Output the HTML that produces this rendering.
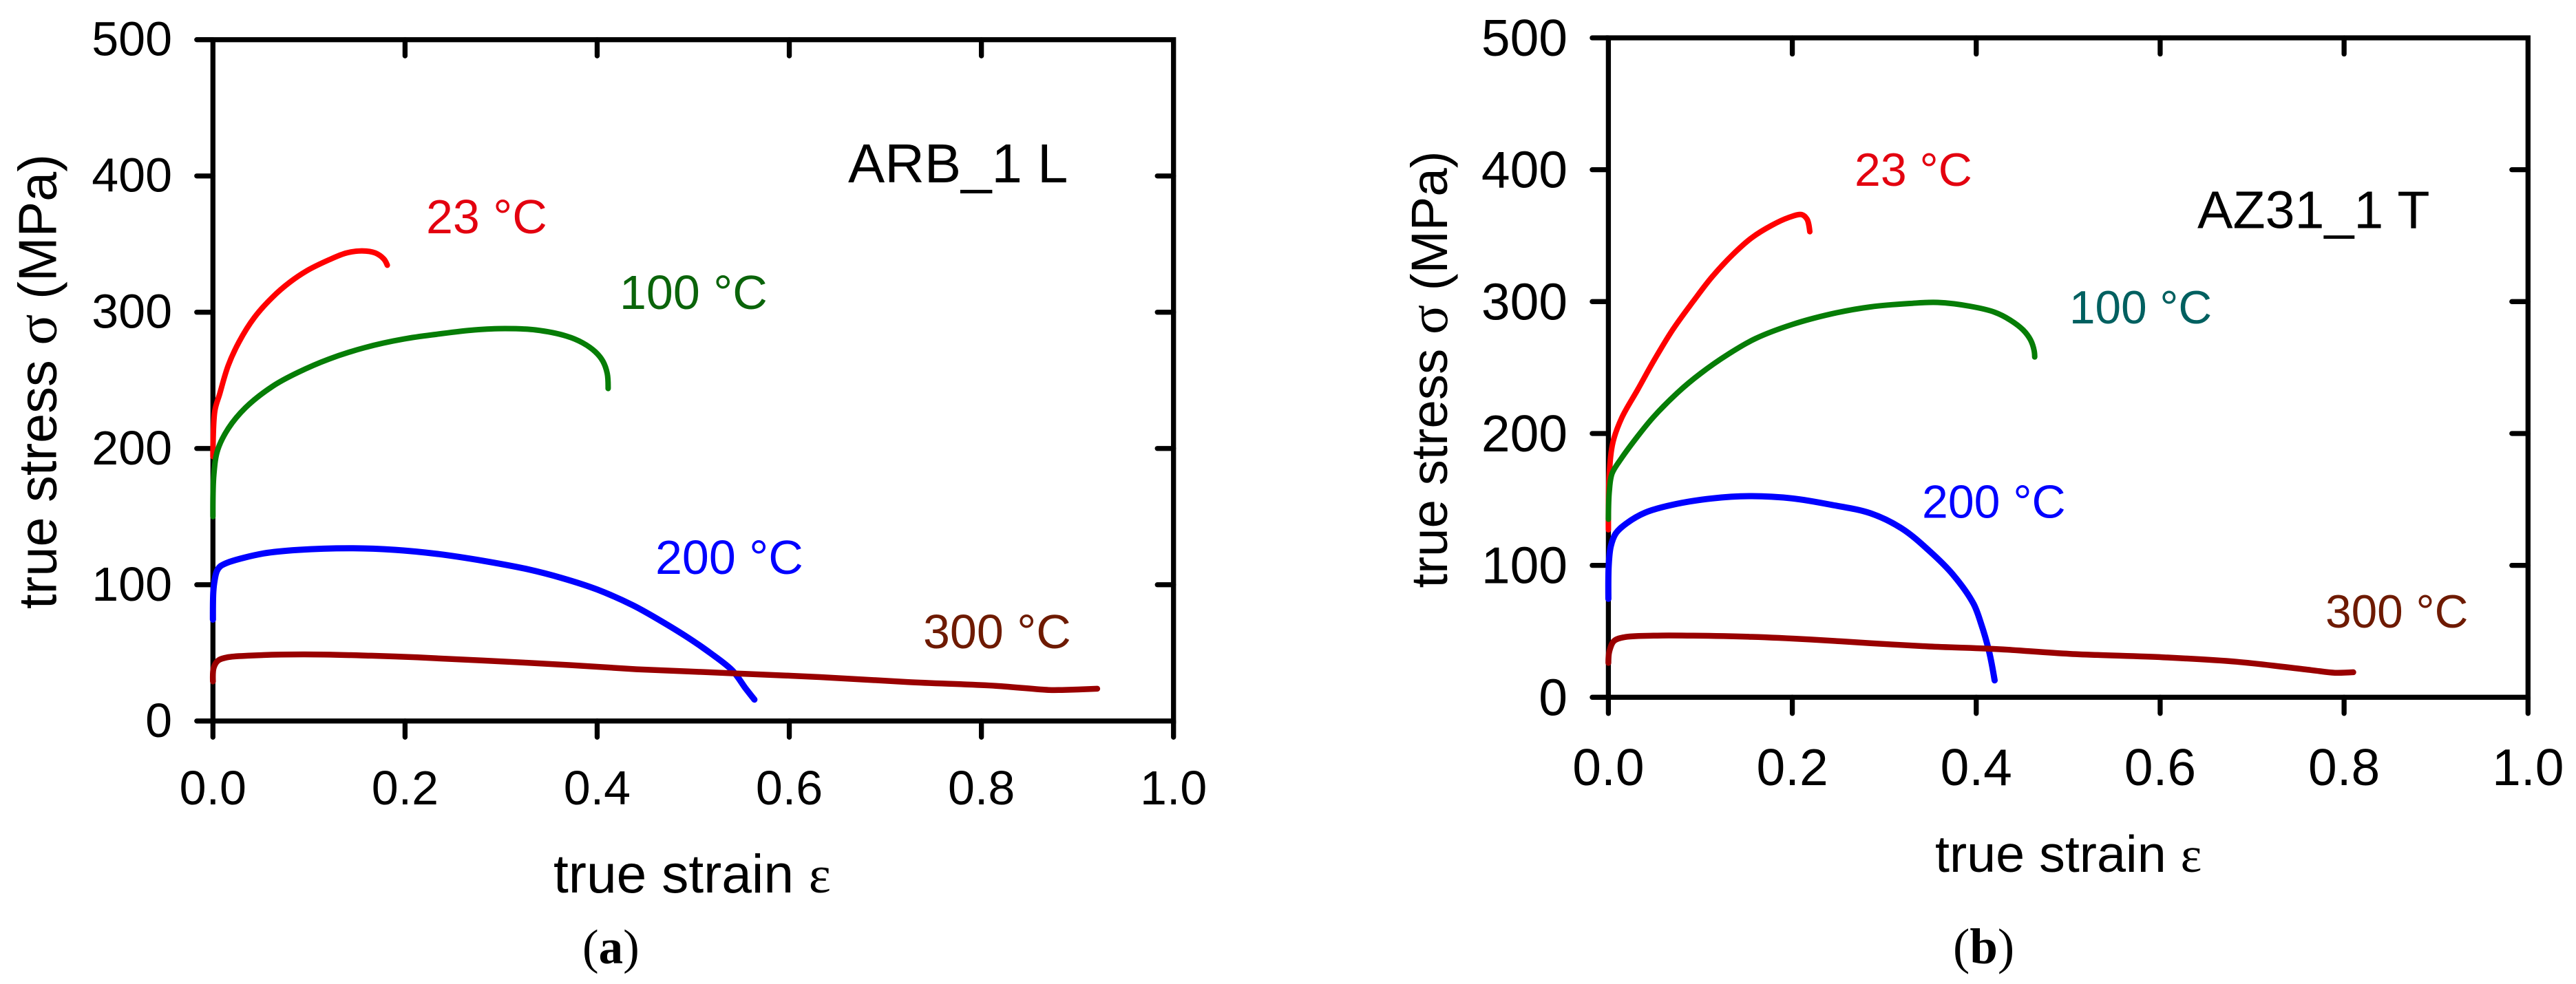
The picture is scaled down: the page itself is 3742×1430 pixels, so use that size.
<!DOCTYPE html>
<html lang="en">
<head>
<meta charset="utf-8">
<title>True stress vs true strain: ARB_1 L and AZ31_1 T</title>
<style>
html,body{margin:0;padding:0;background:#fff;}
svg{display:block;}
text{font-family:"Liberation Sans",sans-serif;}
.serif{font-family:"Liberation Serif",serif;}
</style>
</head>
<body>
<svg id="figure" xmlns="http://www.w3.org/2000/svg" width="3742" height="1430" viewBox="0 0 3742 1430">
  <rect x="0" y="0" width="3742" height="1430" fill="#fff"/>

  <g id="panel-a"></g>
  <g id="panel-b"></g>

  <!-- panel a text -->
  <text transform="translate(81.5,885) rotate(-90)" font-size="77.5">true stress <tspan class="serif" font-size="84">σ</tspan> (MPa)</text>
  <text x="804" y="1297" font-size="78.5">true strain <tspan class="serif" font-size="76">ε</tspan></text>
  <text class="serif" x="846" y="1400" font-size="71">(<tspan font-weight="bold">a</tspan>)</text>
  <text x="1232" y="265" font-size="79.8">ARB_1 L</text>
  <text x="619" y="339" font-size="70" fill="#e3000f">23 °C</text>
  <text x="900" y="449" font-size="70" fill="#0a640a">100 °C</text>
  <text x="952" y="834" font-size="70" fill="#0000ff">200 °C</text>
  <text x="1341" y="942" font-size="70" fill="#6e1a00">300 °C</text>

  <!-- panel b text -->
  <text transform="translate(2102,854.5) rotate(-90)" font-size="74.5">true stress <tspan class="serif" font-size="80">σ</tspan> (MPa)</text>
  <text x="2811" y="1267" font-size="75.5">true strain <tspan class="serif" font-size="73">ε</tspan></text>
  <text class="serif" x="2837" y="1400" font-size="73">(<tspan font-weight="bold">b</tspan>)</text>
  <text x="3192" y="331.5" font-size="77.2">AZ31_1 T</text>
  <text x="2694" y="270" font-size="68" fill="#e3000f">23 °C</text>
  <text x="3006" y="470" font-size="67.5" fill="#006060">100 °C</text>
  <text x="2792" y="752.5" font-size="68" fill="#0000ff">200 °C</text>
  <text x="3378" y="912" font-size="67.6" fill="#6e1a00">300 °C</text>
</svg>

<script>
var xTickLabels = ["0.0", "0.2", "0.4", "0.6", "0.8", "1.0"];
var xTickValues = [0, 0.2, 0.4, 0.6, 0.8, 1.0];
var yTickLabels = ["0", "100", "200", "300", "400", "500"];
var yTickValues = [0, 100, 200, 300, 400, 500];

/* Panel (a) ARB_1 L */
var aStrain23 = [0, 0.002, 0.007, 0.016, 0.027, 0.043, 0.062, 0.08, 0.098, 0.121, 0.139, 0.155, 0.169, 0.178, 0.1815];
var aStress23 = [194, 227.6, 240, 261, 278, 296, 311, 322, 330.5, 338.5, 343.5, 345, 343.5, 339, 334.5];
var aStrain100 = [0, 0.001, 0.005, 0.016, 0.034, 0.062, 0.089, 0.121, 0.158, 0.199, 0.235, 0.272, 0.304, 0.336, 0.368, 0.385, 0.398, 0.406, 0.4105, 0.4114];
var aStress100 = [150, 181, 199, 214.7, 230, 245.6, 256, 265.7, 274, 280.4, 284, 287, 288, 287, 282.5, 277.5, 271, 264, 255, 244];
var aStrain200 = [0, 0.0004, 0.0017, 0.0041, 0.0077, 0.017, 0.053, 0.089, 0.146, 0.19, 0.235, 0.281, 0.327, 0.363, 0.4, 0.437, 0.464, 0.495, 0.518, 0.541, 0.5545, 0.5637];
var aStress200 = [74.4, 95, 103, 110, 113.5, 116.7, 123, 125.6, 126.8, 125.6, 122.5, 117.6, 111.5, 105, 96.5, 85, 74.4, 61, 49.8, 36.9, 24, 15.7];
var aStrain300 = [0, 0.0008, 0.0053, 0.0148, 0.0385, 0.0937, 0.165, 0.2126, 0.281, 0.3726, 0.441, 0.495, 0.541, 0.632, 0.724, 0.815, 0.87, 0.884, 0.9206];
var aStress300 = [29, 39, 44.3, 46.7, 48, 48.9, 47.9, 46.7, 44.4, 41, 38, 36.4, 35, 32.2, 28.6, 25.8, 22.8, 22.8, 23.7];

/* Panel (b) AZ31_1 T */
var bStrain23 = [0, 0.001, 0.005, 0.0146, 0.032, 0.049, 0.07, 0.092, 0.113, 0.135, 0.156, 0.178, 0.195, 0.21, 0.216, 0.219];
var bStress23 = [127, 169.6, 193.5, 212, 233.4, 254.7, 278.7, 300, 319, 335.5, 348.5, 358, 363.5, 366, 362.5, 353];
var bStrain100 = [0, 0.001, 0.004, 0.0146, 0.032, 0.049, 0.075, 0.1, 0.13, 0.16, 0.2, 0.242, 0.285, 0.328, 0.358, 0.393, 0.42, 0.437, 0.451, 0.459, 0.463, 0.4636];
var bStress100 = [135, 156, 169.6, 181.6, 198, 212.5, 230.8, 245.4, 260, 272, 282.7, 290.6, 296, 298.6, 299.4, 296.5, 292, 286, 278.5, 271, 262.7, 258];
var bStrain200 = [0, 0.0004, 0.0026, 0.008, 0.019, 0.04, 0.07, 0.113, 0.156, 0.2, 0.242, 0.285, 0.319, 0.349, 0.375, 0.397, 0.405, 0.414, 0.42];
var bStress200 = [74.6, 100, 114.5, 124.2, 131.5, 140, 146, 150.8, 152.5, 150.8, 146, 139.5, 128, 111, 92.7, 70.9, 56.4, 34.6, 12.8];
var bStrain300 = [0, 0.001, 0.006, 0.017, 0.049, 0.092, 0.156, 0.22, 0.285, 0.349, 0.4218, 0.502, 0.603, 0.683, 0.764, 0.79, 0.81];
var bStress300 = [26, 34.6, 42.6, 45.5, 46.7, 46.7, 45.8, 43.8, 41, 38.5, 36.6, 32.9, 30.3, 26.9, 20.6, 18.6, 19];

var NS = 'http://www.w3.org/2000/svg';
var LINE_COLORS = {t23: '#ff0000', t100: '#067d06', t200: '#0000ff', t300: '#990000'};

function scale(d0, d1, r0, r1) {
  return function (v) { return r0 + (v - d0) / (d1 - d0) * (r1 - r0); };
}

function make(tag, parent, attrs) {
  var el = document.createElementNS(NS, tag);
  for (var k in attrs) el.setAttribute(k, attrs[k]);
  parent.appendChild(el);
  return el;
}

/* Centripetal Catmull-Rom through the data points, as cubic Beziers. */
function smoothPath(p) {
  function dist(a, b) { return Math.hypot(a[0] - b[0], a[1] - b[1]); }
  var d = 'M' + p[0][0].toFixed(1) + ' ' + p[0][1].toFixed(1);
  for (var i = 0; i < p.length - 1; i++) {
    var p0 = p[i === 0 ? 0 : i - 1], p1 = p[i], p2 = p[i + 1], p3 = p[i + 2 < p.length ? i + 2 : i + 1];
    var l1 = dist(p0, p1), l2 = dist(p1, p2), l3 = dist(p2, p3);
    var a1 = Math.sqrt(l1), a2 = Math.sqrt(l2), a3 = Math.sqrt(l3);
    var c1 = p1.slice(), c2 = p2.slice();
    for (var k = 0; k < 2; k++) {
      if (l1 > 0) c1[k] = (p2[k] * l1 - p0[k] * l2 + p1[k] * (2 * l1 + 3 * a1 * a2 + l2)) / (3 * a1 * (a1 + a2));
      if (l3 > 0) c2[k] = (p1[k] * l3 - p3[k] * l2 + p2[k] * (2 * l3 + 3 * a3 * a2 + l2)) / (3 * a3 * (a3 + a2));
    }
    d += 'C' + c1[0].toFixed(1) + ' ' + c1[1].toFixed(1) + ' ' + c2[0].toFixed(1) + ' ' + c2[1].toFixed(1) + ' ' + p2[0].toFixed(1) + ' ' + p2[1].toFixed(1);
  }
  return d;
}

function drawPanel(root, box, series) {
  var xScale = scale(0, 1, box.left, box.right);
  var yScale = scale(0, 500, box.bottom, box.top);
  var AXIS = 7.3, TICK = 23.5;

  var frame = make('rect', root, {x: box.left, y: box.top, width: box.right - box.left, height: box.bottom - box.top, fill: 'none', stroke: '#000', 'stroke-width': AXIS});
  
  

  xTickValues.forEach(function (v, i) {
    var x = xScale(v);
    var bottomTick = make('line', root, {x1: x, x2: x, y1: box.bottom, y2: box.bottom + TICK, stroke: '#000', 'stroke-width': AXIS, 'stroke-linecap': 'round'});
    
    
    if (i > 0 && i < xTickValues.length - 1) {
      var topTick = make('line', root, {x1: x, x2: x, y1: box.top, y2: box.top + TICK, stroke: '#000', 'stroke-width': AXIS, 'stroke-linecap': 'round'});
      
      
    }
    var label = make('text', root, {x: x, y: box.xLabelY, 'text-anchor': 'middle', 'font-size': box.tickFont});
    
    
    label.textContent = xTickLabels[i];
  });

  yTickValues.forEach(function (v, i) {
    var y = yScale(v);
    var leftTick = make('line', root, {x1: box.left - TICK, x2: box.left, y1: y, y2: y, stroke: '#000', 'stroke-width': AXIS, 'stroke-linecap': 'round'});
    
    
    if (i > 0 && i < yTickValues.length - 1) {
      var rightTick = make('line', root, {x1: box.right - TICK, x2: box.right, y1: y, y2: y, stroke: '#000', 'stroke-width': AXIS, 'stroke-linecap': 'round'});
      
      
    }
    var label = make('text', root, {x: box.yLabelX, y: y + box.yLabelDy, 'text-anchor': 'end', 'font-size': box.tickFont});
    
    
    label.textContent = yTickLabels[i];
  });

  series.forEach(function (s) {
    var pts = s.x.map(function (v, i) { return [xScale(v), yScale(s.y[i])]; });
    var curve = make('path', root, {d: smoothPath(pts), fill: 'none', stroke: s.color, 'stroke-width': s.width, 'stroke-linecap': 'round', 'stroke-linejoin': 'round'});
    
    
  });
}

drawPanel(document.getElementById('panel-a'),
  {left: 309.3, right: 1704.7, top: 57.7, bottom: 1047.8, tickFont: 70, xLabelY: 1169, yLabelX: 250, yLabelDy: 23},
  [
    {name: 'panel-a-curve-23c', x: aStrain23, y: aStress23, color: LINE_COLORS.t23, width: 8},
    {name: 'panel-a-curve-100c', x: aStrain100, y: aStress100, color: LINE_COLORS.t100, width: 8},
    {name: 'panel-a-curve-200c', x: aStrain200, y: aStress200, color: LINE_COLORS.t200, width: 9},
    {name: 'panel-a-curve-300c', x: aStrain300, y: aStress300, color: LINE_COLORS.t300, width: 8.5}
  ]);

drawPanel(document.getElementById('panel-b'),
  {left: 2336.4, right: 3672.3, top: 55, bottom: 1013.3, tickFont: 75, xLabelY: 1141, yLabelX: 2277, yLabelDy: 26},
  [
    {name: 'panel-b-curve-23c', x: bStrain23, y: bStress23, color: LINE_COLORS.t23, width: 8},
    {name: 'panel-b-curve-100c', x: bStrain100, y: bStress100, color: LINE_COLORS.t100, width: 8},
    {name: 'panel-b-curve-200c', x: bStrain200, y: bStress200, color: LINE_COLORS.t200, width: 9},
    {name: 'panel-b-curve-300c', x: bStrain300, y: bStress300, color: LINE_COLORS.t300, width: 8.5}
  ]);
</script>
</body>
</html>
